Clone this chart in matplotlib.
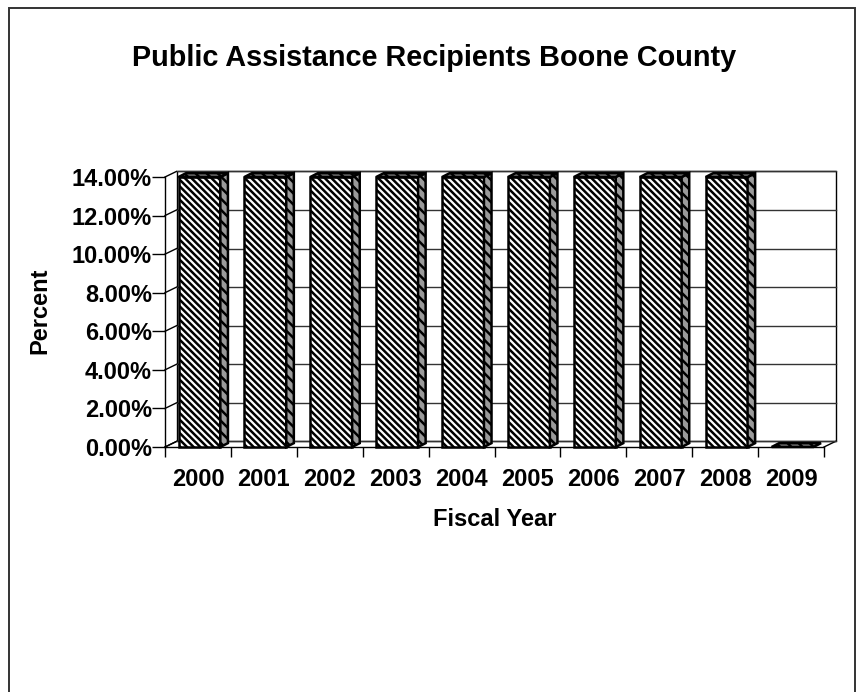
import matplotlib
matplotlib.use('Agg')
import matplotlib.pyplot as plt
from matplotlib.patches import Polygon, Rectangle

plt.rcParams['font.family'] = ['Liberation Sans', 'DejaVu Sans']
plt.rcParams['hatch.linewidth'] = 1.8

years = ['2000', '2001', '2002', '2003', '2004', '2005', '2006', '2007', '2008', '2009']
percent = [14, 14, 14, 14, 14, 14, 14, 14, 14, 0]
yticks = [0, 2, 4, 6, 8, 10, 12, 14]

W, H = 856, 692
fig = plt.figure(figsize=(W/100, H/100), dpi=100)

# outer frame of the page
fig.add_artist(Rectangle((9/W, -0.01), (855-9)/W, 1.01-8/H, transform=fig.transFigure,
                         fill=False, ec='#333333', lw=1.4))

# front plane of the fake 3d box
ax = fig.add_axes([165/W, 1-447/H, (824-165)/W, (447-177)/H])
ax.set_xlim(0, 10)
ax.set_ylim(0, 14)
ax.patch.set_visible(False)
for s in ['top', 'right']:
    ax.spines[s].set_visible(False)
for s in ['left', 'bottom']:
    ax.spines[s].set_linewidth(1.0)

# depth of the box and the bars, in data units
dx = 0.175
dy = 0.29
bar_dx = 0.115
bar_dy = 0.2

# back wall
ax.add_patch(Polygon([(dx, dy), (10+dx, dy), (10+dx, 14+dy), (dx, 14+dy)], closed=True,
                     fill=False, ec='k', lw=1.0, clip_on=False, zorder=1))
ax.plot([0, dx], [0, dy], c='k', lw=1.0, clip_on=False, zorder=1)
ax.plot([10, 10+dx], [0, dy], c='k', lw=1.0, clip_on=False, zorder=1)
for t in yticks:
    ax.plot([0, dx], [t, t+dy], c='k', lw=1.0, clip_on=False, zorder=1)
    ax.plot([dx, 10+dx], [t+dy, t+dy], c='#333333', lw=1.0, clip_on=False, zorder=1)

# bars
for i, v in enumerate(percent):
    x0 = i + 0.205
    x1 = i + 0.84
    if v > 0:
        ax.add_patch(Polygon([(x0, 0), (x1, 0), (x1, v), (x0, v)], closed=True, fc='white', ec='k',
                             lw=1.8, hatch='\\\\\\\\\\', clip_on=False, zorder=3))
        ax.add_patch(Polygon([(x1, 0), (x1+bar_dx, bar_dy), (x1+bar_dx, v+bar_dy), (x1, v)], closed=True,
                             fc='#9a9a9a', ec='k', lw=1.8, hatch='\\\\\\', clip_on=False, zorder=3))
    ax.add_patch(Polygon([(x0, v), (x1, v), (x1+bar_dx, v+bar_dy), (x0+bar_dx, v+bar_dy)], closed=True,
                         fc='#777777', ec='k', lw=1.8, hatch='\\\\\\', clip_on=False, zorder=3))

ax.set_yticks(yticks)
ax.set_yticklabels(['%.2f%%' % t for t in yticks], fontsize=17, fontweight='bold')
ax.set_xticks(range(11))
ax.set_xticklabels([])
ax.tick_params(axis='y', length=9.4, width=1.0, pad=0)
ax.tick_params(axis='x', length=7, width=1.0)
for i, y in enumerate(years):
    ax.text(i+0.5, -1.7, y, ha='center', va='center', fontsize=17, fontweight='bold')

ax.text(5.0, -3.75, 'Fiscal Year', ha='center', va='center', fontsize=17, fontweight='bold')
ax.text(-1.9, 7.05, 'Percent', rotation=90, ha='center', va='center', fontsize=17, fontweight='bold')
fig.text(434/W, 1-58/H, 'Public Assistance Recipients Boone County', ha='center', va='center',
         fontsize=20.8, fontweight='bold')

fig.savefig('out.png', dpi=100)
plt.close()
